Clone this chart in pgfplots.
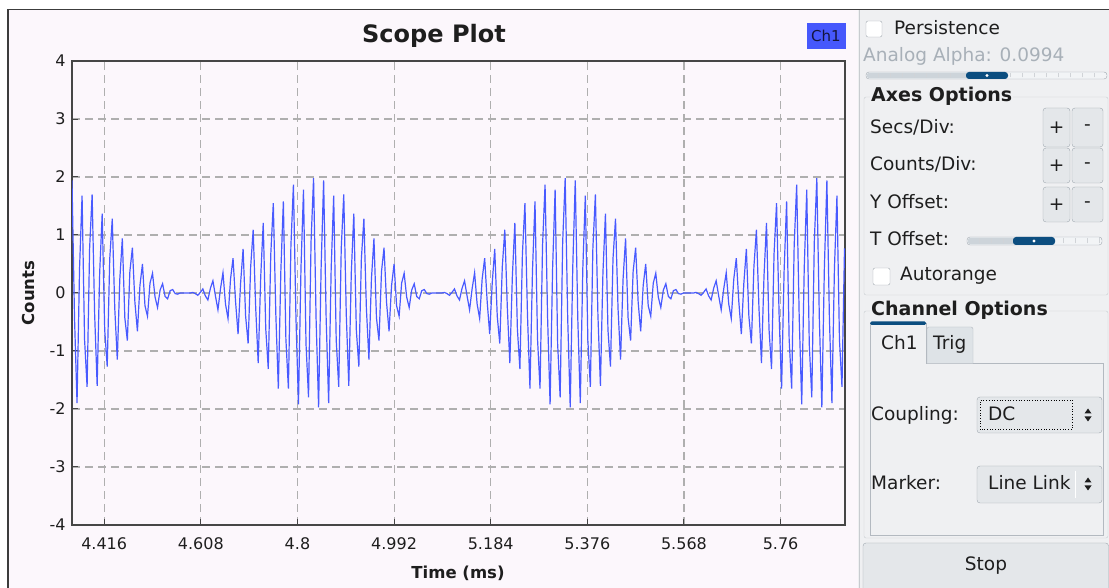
\documentclass[border=0pt]{standalone}
\usepackage{pgfplots}
\pgfplotsset{compat=1.18}
\usepackage{fontspec}
\setmainfont{DejaVu Sans}
\definecolor{panelbg}{RGB}{239,240,242}
\definecolor{plotbg}{RGB}{252,247,252}
\definecolor{framec}{RGB}{60,60,60}
\definecolor{grp}{RGB}{200,204,208}
\definecolor{btn}{RGB}{228,231,234}
\definecolor{btnb}{RGB}{160,168,176}
\definecolor{trk}{RGB}{205,212,218}
\definecolor{trkr}{RGB}{242,244,246}
\definecolor{hdl}{RGB}{12,78,128}
\definecolor{sig}{RGB}{72,90,255}
\definecolor{legb}{RGB}{70,88,252}
\definecolor{txt}{RGB}{30,30,30}
\definecolor{dim}{RGB}{168,176,184}
\definecolor{axc}{RGB}{70,70,70}
\definecolor{gridc}{RGB}{175,175,175}
\definecolor{trigbg}{RGB}{222,227,231}
\newcommand\pf{\fontsize{18.5}{22}\selectfont}
\begin{document}
\begin{tikzpicture}[x=1pt,y=1pt]
\useasboundingbox (0,0) rectangle (1109,588);
\fill[white] (0,0) rectangle (1109,588);
\fill[plotbg] (9,0) rectangle (858,578);
\fill[panelbg] (858,0) rectangle (1109,578);
\draw[grp, line width=0.8pt] (859.5,0) -- (859.5,578);
\draw[framec, line width=1.5pt] (8,0) -- (8,578.5) -- (1109,578.5);

\begin{axis}[
  at={(72pt,63pt)}, anchor=south west,
  scale only axis, width=773pt, height=464pt,
  xmin=4.352, xmax=5.888, ymin=-4, ymax=4,
  xtick={4.416,4.608,4.8,4.992,5.184,5.376,5.568,5.76},
  xticklabels={4.416,4.608,4.8,4.992,5.184,5.376,5.568,5.76},
  ytick={-4,-3,-2,-1,0,1,2,3,4},
  yticklabels={-4,-3,-2,-1,0,1,2,3,4},
  xtick pos=bottom, ytick pos=left,
  tick align=inside, major tick length=6pt,
  tick style={draw=axc, line width=1pt},
  axis line style={draw=axc, line width=1.3pt},
  grid=major,
  major grid style={draw=gridc, line width=1.1pt, dash pattern=on 8pt off 5pt},
  ticklabel style={font=\fontsize{16}{19}\selectfont, text=txt},
  xticklabel style={yshift=-9pt},
  yticklabel style={xshift=-3pt},
  axis background/.style={fill=plotbg},
]
\addplot[sig, line width=1.2pt] coordinates {
(4.352,1.94)(4.357,-0.43)(4.362,-1.90)(4.367,0.42)(4.372,1.68)(4.377,-0.81)(4.382,-1.62)(4.387,0.77)(4.392,1.70)(4.397,-0.37)
(4.402,-1.60)(4.407,0.35)(4.412,1.37)(4.417,-0.64)(4.422,-1.27)(4.427,0.59)(4.432,1.28)(4.437,-0.27)(4.442,-1.15)(4.447,0.24)
(4.452,0.94)(4.457,-0.43)(4.462,-0.82)(4.467,0.37)(4.472,0.78)(4.477,-0.16)(4.482,-0.66)(4.487,0.13)(4.492,0.50)(4.497,-0.22)
(4.502,-0.40)(4.507,0.17)(4.512,0.34)(4.517,-0.07)(4.522,-0.25)(4.527,0.05)(4.532,0.16)(4.537,-0.06)(4.542,-0.10)(4.547,0.04)
(4.552,0.06)(4.557,-0.01)(4.562,-0.02)(4.567,0)(4.572,0)(4.577,0)(4.582,0)(4.587,0)(4.592,0.01)(4.597,-0.01)
(4.602,-0.04)(4.607,0.01)(4.612,0.07)(4.617,-0.05)(4.622,-0.12)(4.627,0.08)(4.632,0.21)(4.637,-0.05)(4.642,-0.29)(4.647,0.07)
(4.652,0.35)(4.657,-0.19)(4.662,-0.44)(4.667,0.24)(4.672,0.60)(4.677,-0.15)(4.682,-0.71)(4.687,0.17)(4.692,0.76)(4.697,-0.40)
(4.702,-0.87)(4.707,0.45)(4.712,1.09)(4.717,-0.25)(4.722,-1.21)(4.727,0.28)(4.732,1.21)(4.737,-0.62)(4.742,-1.31)(4.747,0.67)
(4.752,1.55)(4.757,-0.36)(4.762,-1.65)(4.767,0.38)(4.772,1.58)(4.777,-0.79)(4.782,-1.65)(4.787,0.82)(4.792,1.87)(4.797,-0.42)
(4.802,-1.92)(4.807,0.43)(4.812,1.78)(4.817,-0.88)(4.822,-1.80)(4.827,0.88)(4.832,1.98)(4.837,-0.44)(4.842,-1.97)(4.847,0.43)
(4.852,1.94)(4.857,-0.43)(4.862,-1.90)(4.867,0.42)(4.872,1.68)(4.877,-0.81)(4.882,-1.62)(4.887,0.77)(4.892,1.70)(4.897,-0.37)
(4.902,-1.60)(4.907,0.35)(4.912,1.37)(4.917,-0.64)(4.922,-1.27)(4.927,0.59)(4.932,1.28)(4.937,-0.27)(4.942,-1.15)(4.947,0.24)
(4.952,0.94)(4.957,-0.43)(4.962,-0.82)(4.967,0.37)(4.972,0.78)(4.977,-0.16)(4.982,-0.66)(4.987,0.13)(4.992,0.50)(4.997,-0.22)
(5.002,-0.40)(5.007,0.17)(5.012,0.34)(5.017,-0.07)(5.022,-0.25)(5.027,0.05)(5.032,0.16)(5.037,-0.06)(5.042,-0.10)(5.047,0.04)
(5.052,0.06)(5.057,-0.01)(5.062,-0.02)(5.067,0)(5.072,0)(5.077,0)(5.082,0)(5.087,0)(5.092,0.01)(5.097,-0.01)
(5.102,-0.04)(5.107,0.01)(5.112,0.07)(5.117,-0.05)(5.122,-0.12)(5.127,0.08)(5.132,0.21)(5.137,-0.05)(5.142,-0.29)(5.147,0.07)
(5.152,0.35)(5.157,-0.19)(5.162,-0.44)(5.167,0.24)(5.172,0.60)(5.177,-0.15)(5.182,-0.71)(5.187,0.17)(5.192,0.76)(5.197,-0.40)
(5.202,-0.87)(5.207,0.45)(5.212,1.09)(5.217,-0.25)(5.222,-1.21)(5.227,0.28)(5.232,1.21)(5.237,-0.62)(5.242,-1.31)(5.247,0.67)
(5.252,1.55)(5.257,-0.36)(5.262,-1.65)(5.267,0.38)(5.272,1.58)(5.277,-0.79)(5.282,-1.65)(5.287,0.82)(5.292,1.87)(5.297,-0.42)
(5.302,-1.92)(5.307,0.43)(5.312,1.78)(5.317,-0.88)(5.322,-1.80)(5.327,0.88)(5.332,1.98)(5.337,-0.44)(5.342,-1.97)(5.347,0.43)
(5.352,1.94)(5.357,-0.43)(5.362,-1.90)(5.367,0.42)(5.372,1.68)(5.377,-0.81)(5.382,-1.62)(5.387,0.77)(5.392,1.70)(5.397,-0.37)
(5.402,-1.60)(5.407,0.35)(5.412,1.37)(5.417,-0.64)(5.422,-1.27)(5.427,0.59)(5.432,1.28)(5.437,-0.27)(5.442,-1.15)(5.447,0.24)
(5.452,0.94)(5.457,-0.43)(5.462,-0.82)(5.467,0.37)(5.472,0.78)(5.477,-0.16)(5.482,-0.66)(5.487,0.13)(5.492,0.50)(5.497,-0.22)
(5.502,-0.40)(5.507,0.17)(5.512,0.34)(5.517,-0.07)(5.522,-0.25)(5.527,0.05)(5.532,0.16)(5.537,-0.06)(5.542,-0.10)(5.547,0.04)
(5.552,0.06)(5.557,-0.01)(5.562,-0.02)(5.567,0)(5.572,0)(5.577,0)(5.582,0)(5.587,0)(5.592,0.01)(5.597,-0.01)
(5.602,-0.04)(5.607,0.01)(5.612,0.07)(5.617,-0.05)(5.622,-0.12)(5.627,0.08)(5.632,0.21)(5.637,-0.05)(5.642,-0.29)(5.647,0.07)
(5.652,0.35)(5.657,-0.19)(5.662,-0.44)(5.667,0.24)(5.672,0.60)(5.677,-0.15)(5.682,-0.71)(5.687,0.17)(5.692,0.76)(5.697,-0.40)
(5.702,-0.87)(5.707,0.45)(5.712,1.09)(5.717,-0.25)(5.722,-1.21)(5.727,0.28)(5.732,1.21)(5.737,-0.62)(5.742,-1.31)(5.747,0.67)
(5.752,1.55)(5.757,-0.36)(5.762,-1.65)(5.767,0.38)(5.772,1.58)(5.777,-0.79)(5.782,-1.65)(5.787,0.82)(5.792,1.87)(5.797,-0.42)
(5.802,-1.92)(5.807,0.43)(5.812,1.78)(5.817,-0.88)(5.822,-1.80)(5.827,0.88)(5.832,1.98)(5.837,-0.44)(5.842,-1.97)(5.847,0.43)
(5.852,1.94)(5.857,-0.43)(5.862,-1.90)(5.867,0.42)(5.872,1.68)(5.877,-0.81)(5.882,-1.62)(5.887,0.77)
};
\end{axis}

% titles and legend
\node[font=\bfseries\fontsize{24}{28}\selectfont, text=txt] at (434,552) {Scope Plot};
\node[font=\bfseries\fontsize{16.5}{20}\selectfont, text=txt] at (458,15) {Time (ms)};
\node[rotate=90, font=\bfseries\fontsize{16.5}{20}\selectfont, text=txt] at (28,295) {Counts};
\node[fill=legb, minimum width=39pt, minimum height=26pt, inner sep=0pt, font=\fontsize{15}{18}\selectfont, text={rgb,255:red,20;green,20;blue,60}] at (826,552) {Ch1};

% right panel
\begin{scope}[every node/.style={font=\pf, text=txt}]
\draw[btnb, fill=white, rounded corners=2pt] (866,551) rectangle (882,567);
\node[anchor=base west, inner sep=0pt] at (894,553) {Persistence};
\node[anchor=base west, inner sep=0pt, text=dim] at (863,526) {Analog Alpha: 0.0994};
% slider 1
\draw[btnb, fill=trkr, rounded corners=3pt] (866,509) rectangle (1107,516);
\fill[trk, rounded corners=3pt] (866.6,509.6) rectangle (970,515.4);
\foreach \x in {878,890,...,1100} \draw[btnb!50, line width=0.6pt] (\x,510.5) -- (\x,514.5);
\fill[hdl, rounded corners=3pt] (966,509) rectangle (1008,516);
\fill[white] (987,512.5) circle (1.6pt);
% Axes Options group
\draw[grp, rounded corners=2pt] (864,293) rectangle (1108,491);
\node[anchor=base west, fill=panelbg, inner sep=1pt, font=\bfseries\fontsize{19}{22}\selectfont] at (870,486) {Axes Options};
\node[anchor=base west, inner sep=0pt] at (870,454) {Secs/Div:};
\node[anchor=base west, inner sep=0pt] at (870,417) {Counts/Div:};
\node[anchor=base west, inner sep=0pt] at (870,379) {Y Offset:};
\node[anchor=base west, inner sep=0pt] at (870,342) {T Offset:};
\foreach \ya/\yb in {441/480,405/440,366/401} {
  \draw[btnb, fill=btn, rounded corners=3pt] (1043,\ya) rectangle (1070,\yb);
  \draw[btnb, fill=btn, rounded corners=3pt] (1072,\ya) rectangle (1103,\yb);
  \node at (1056.5,{(\ya+\yb)/2}) {+};
  \node at (1087.5,{(\ya+\yb)/2}) {-};
}
% T offset slider
\draw[btnb, fill=trkr, rounded corners=3pt] (967,343) rectangle (1102,351);
\fill[trk, rounded corners=3pt] (967.6,343.6) rectangle (1016,350.4);
\foreach \x in {979,991,...,1100} \draw[btnb!50, line width=0.6pt] (\x,344.5) -- (\x,349.5);
\fill[hdl, rounded corners=3pt] (1013,343) rectangle (1055,351);
\fill[white] (1034,347) circle (1.6pt);
% Autorange
\draw[btnb, fill=white, rounded corners=2pt] (873,303) rectangle (890,320);
\node[anchor=base west, inner sep=0pt] at (900,307) {Autorange};
% Channel Options group
\draw[grp, rounded corners=2pt] (864,50) rectangle (1108,277);
\node[anchor=base west, fill=panelbg, inner sep=1pt, font=\bfseries\fontsize{19}{22}\selectfont] at (870,272) {Channel Options};
\draw[btnb!80] (870,53) rectangle (1103,225);
\draw[btnb!80, fill=trigbg, rounded corners=2pt] (927,224.5) -- (927,261) -- (973,261) -- (973,224.5);
\fill[panelbg] (870.5,224) rectangle (926,265);
\draw[btnb!80] (870,225) -- (870,265) -- (926,265) -- (926,225);
\fill[hdl, rounded corners=1.5pt] (870,263) rectangle (926,266.5);
\node[anchor=base west, inner sep=0pt] at (881,238) {Ch1};
\node[anchor=base west, inner sep=0pt] at (933,238) {Trig};
% Coupling
\node[anchor=base west, inner sep=0pt] at (871,167) {Coupling:};
\draw[btnb, fill=btn, rounded corners=3pt] (977,155) rectangle (1102,191);
\draw[black, dotted, line width=0.7pt] (980.5,158.5) rectangle (1072,188);
\node[anchor=base west, inner sep=0pt] at (988,167) {DC};
\fill[txt] (1084.5,174.5) -- (1091.5,174.5) -- (1088,179.5) -- cycle;
\fill[txt] (1084.5,171.5) -- (1091.5,171.5) -- (1088,166.5) -- cycle;
% Marker
\node[anchor=base west, inner sep=0pt] at (871,98) {Marker:};
\draw[btnb, fill=btn, rounded corners=3pt] (977,85) rectangle (1102,122);
\draw[white, line width=1pt] (1075,90) -- (1075,117);
\node[anchor=base west, inner sep=0pt] at (988,98) {Line Link};
\fill[txt] (1084.5,105.5) -- (1091.5,105.5) -- (1088,110.5) -- cycle;
\fill[txt] (1084.5,102.5) -- (1091.5,102.5) -- (1088,97.5) -- cycle;
% Stop
\draw[btnb, fill=btn, rounded corners=3pt] (863,-3) rectangle (1108.5,45);
\node at (986,22) {Stop};
\end{scope}
\end{tikzpicture}
\end{document}
